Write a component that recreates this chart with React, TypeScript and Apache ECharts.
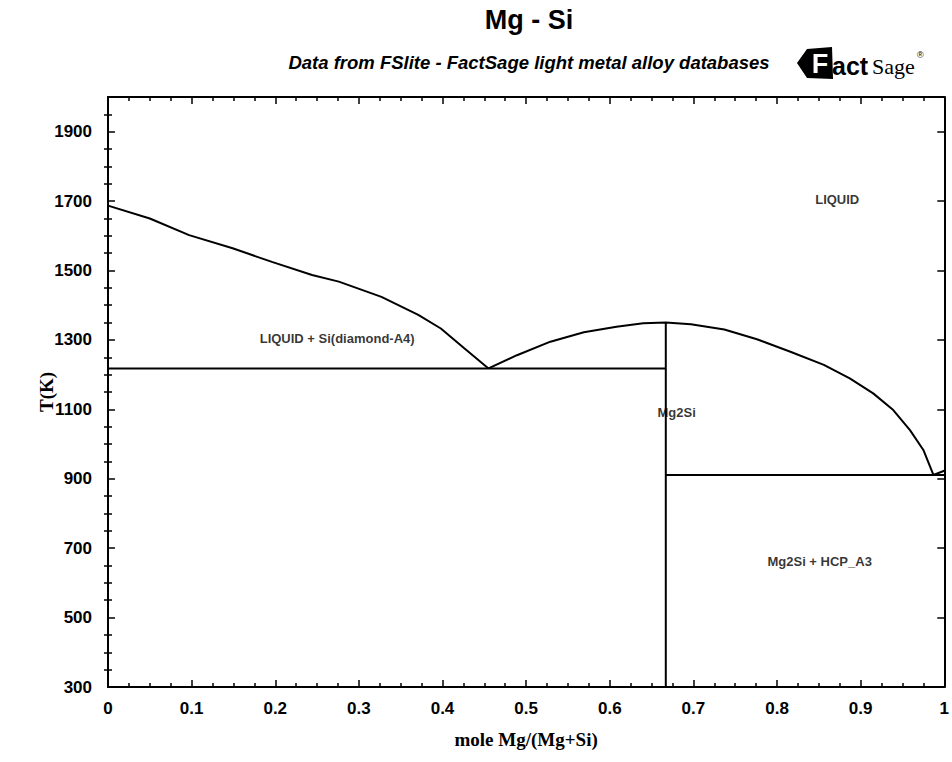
import React, { useEffect, useRef } from "react";
import * as echarts from "echarts";

// ---- data ----
const xTickValues = [0, 0.1, 0.2, 0.3, 0.4, 0.5, 0.6, 0.7, 0.8, 0.9, 1];
const yTickValues = [300, 500, 700, 900, 1100, 1300, 1500, 1700, 1900];
const yMinorTickValues = [
  350, 400, 450, 550, 600, 650, 750, 800, 850, 950, 1000, 1050, 1150, 1200, 1250,
  1350, 1400, 1450, 1550, 1600, 1650, 1750, 1800, 1850, 1950,
];

// Si-rich liquidus (LIQUID / Si(diamond) boundary)
const liqSiX = [0, 0.05, 0.097, 0.149, 0.196, 0.244, 0.276, 0.327, 0.371, 0.398, 0.426, 0.455];
const liqSiT = [1687, 1650, 1602, 1564, 1525, 1487, 1468, 1424, 1372, 1333, 1276, 1218];

// Mg2Si / Mg-rich liquidus
const liqMgX = [0.455, 0.489, 0.529, 0.569, 0.608, 0.64, 0.667, 0.697, 0.737, 0.776, 0.816, 0.856, 0.887, 0.915, 0.939, 0.959, 0.975, 0.987, 1.0];
const liqMgT = [1218, 1256, 1295, 1322, 1338, 1348, 1350, 1345, 1330, 1302, 1266, 1228, 1189, 1146, 1098, 1040, 983, 911, 923];

// invariant lines
const eutecticSiX = [0, 0.667];
const eutecticSiT = [1218, 1218];
const eutecticMgX = [0.667, 1];
const eutecticMgT = [911, 911];
const mg2siX = [0.667, 0.667];
const mg2siT = [300, 1350];

// phase-field labels
const regionNames = ["LIQUID", "LIQUID + Si(diamond-A4)", "Mg2Si", "Mg2Si + HCP_A3"];
const regionX = [0.872, 0.274, 0.68, 0.851];
const regionT = [1705, 1305, 1092, 663];

const zip = (xs: number[], ys: number[]) => xs.map((x, i) => [x, ys[i]]);

const BLACK = "#000";
const SANS = "'Liberation Sans', Arial, sans-serif";
const SERIF = "'Liberation Serif', 'Times New Roman', serif";

export default function App() {
  const ref = useRef<HTMLDivElement>(null);
  useEffect(() => {
    if (!ref.current) return;
    const chart = echarts.init(ref.current, undefined, { renderer: "svg" });

    const lineSeries = (name: string, xs: number[], ys: number[]) => ({
      name,
      type: "line",
      data: zip(xs, ys),
      showSymbol: false,
      symbol: "none",
      smooth: false,
      lineStyle: { color: BLACK, width: 2 },
      xAxisIndex: 0,
      yAxisIndex: 0,
      silent: true,
    });

    const majorTick = { show: true, inside: true, length: 7, lineStyle: { color: BLACK, width: 1.5 } };
    const minorTick = { show: true, splitNumber: 4, length: 4, lineStyle: { color: BLACK, width: 1.5 } };
    const axisLine = { show: true, onZero: false, lineStyle: { color: BLACK, width: 2 } };
    const tickLabel = { color: BLACK, fontFamily: SANS, fontWeight: "bold", fontSize: 17 };

    const LX = 797; // logo origin
    chart.setOption({
      animation: false,
      backgroundColor: "#fff",
      grid: { left: 108, right: 4, top: 97, bottom: 75, containLabel: false },
      xAxis: [
        {
          type: "value",
          position: "bottom",
          min: 0,
          max: 1,
          interval: 0.1,
          axisLine,
          axisTick: majorTick,
          minorTick,
          splitLine: { show: false },
          axisLabel: {
            ...tickLabel,
            margin: 13,
            formatter: (v: number) => {
              const r = Math.round(v * 10) / 10;
              return xTickValues.includes(r) ? String(r) : "";
            },
          },
          name: "mole Mg/(Mg+Si)",
          nameLocation: "middle",
          nameGap: 43,
          nameMoveOverlap: false,
          nameTextStyle: { color: BLACK, fontFamily: SERIF, fontWeight: "bold", fontSize: 19 },
        },
        {
          type: "value",
          position: "top",
          min: 0,
          max: 1,
          interval: 0.1,
          axisLine,
          axisTick: majorTick,
          minorTick,
          splitLine: { show: false },
          axisLabel: { show: false },
        },
      ],
      yAxis: [
        {
          type: "value",
          position: "left",
          min: 300,
          max: 2000,
          axisLine,
          axisTick: { ...majorTick, customValues: yTickValues },
          splitLine: { show: false },
          axisLabel: {
            ...tickLabel,
            margin: 16,
            customValues: yTickValues,
            formatter: (v: number) => String(Math.round(v)),
          },
          name: "T(K)",
          nameLocation: "middle",
          nameRotate: 90,
          nameGap: 52,
          nameMoveOverlap: false,
          nameTextStyle: { color: BLACK, fontFamily: SERIF, fontWeight: "bold", fontSize: 19 },
        },
        {
          type: "value",
          position: "left",
          min: 300,
          max: 2000,
          axisLine: { show: false },
          axisTick: { show: true, inside: true, length: 4, lineStyle: { color: BLACK, width: 1.5 }, customValues: yMinorTickValues },
          splitLine: { show: false },
          axisLabel: { show: false },
        },
        {
          type: "value",
          position: "right",
          min: 300,
          max: 2000,
          axisLine,
          axisTick: { ...majorTick, customValues: yTickValues },
          splitLine: { show: false },
          axisLabel: { show: false },
        },
        {
          type: "value",
          position: "right",
          min: 300,
          max: 2000,
          axisLine: { show: false },
          axisTick: { show: true, inside: true, length: 4, lineStyle: { color: BLACK, width: 1.5 }, customValues: yMinorTickValues },
          splitLine: { show: false },
          axisLabel: { show: false },
        },
      ],
      series: [
        lineSeries("liqSi", liqSiX, liqSiT),
        lineSeries("liqMg", liqMgX, liqMgT),
        lineSeries("eutSi", eutecticSiX, eutecticSiT),
        lineSeries("eutMg", eutecticMgX, eutecticMgT),
        lineSeries("mg2si", mg2siX, mg2siT),
        {
          name: "labels",
          type: "scatter",
          symbolSize: 0,
          silent: true,
          data: regionNames.map((n, i) => ({ name: n, value: [regionX[i], regionT[i]] })),
          label: {
            show: true,
            position: "inside",
            formatter: "{b}",
            color: BLACK,
            fontFamily: SANS,
            fontWeight: "bold",
            fontSize: 13,
          },
        },
      ],
      graphic: [
        {
          type: "text",
          x: 529,
          y: 20,
          style: {
            text: "Mg - Si",
            fill: BLACK,
            font: `bold 27px ${SANS}`,
            textAlign: "center",
            textVerticalAlign: "middle",
          },
        },
        {
          type: "text",
          x: 529,
          y: 62,
          style: {
            text: "Data from FSlite - FactSage light metal alloy databases",
            fill: BLACK,
            font: `italic bold 18.5px ${SANS}`,
            textAlign: "center",
            textVerticalAlign: "middle",
          },
        },
        {
          type: "polygon",
          shape: {
            points: [
              [LX, 63],
              [LX + 10, 49],
              [LX + 35, 47],
              [LX + 36, 79],
              [LX + 10, 78],
            ],
          },
          style: { fill: BLACK },
        },
        {
          type: "text",
          x: LX + 23,
          y: 64,
          style: { text: "F", fill: "#fff", font: `bold 27px ${SANS}`, textAlign: "center", textVerticalAlign: "middle" },
        },
        {
          type: "text",
          x: LX + 35,
          y: 66,
          style: { text: "act", fill: BLACK, font: `900 25px ${SANS}`, textAlign: "left", textVerticalAlign: "middle" },
        },
        {
          type: "text",
          x: LX + 75,
          y: 66,
          style: { text: "Sage", fill: BLACK, font: `22px ${SERIF}`, textAlign: "left", textVerticalAlign: "middle" },
        },
        {
          type: "text",
          x: LX + 120,
          y: 55,
          style: { text: "®", fill: BLACK, font: `9px ${SANS}`, textAlign: "left", textVerticalAlign: "middle" },
        },
      ],
    });
    return () => chart.dispose();
  }, []);

  return (
    <div
      ref={ref}
      style={{ position: "absolute", left: 0, top: 0, width: 952, height: 762, background: "#fff" }}
    />
  );
}
